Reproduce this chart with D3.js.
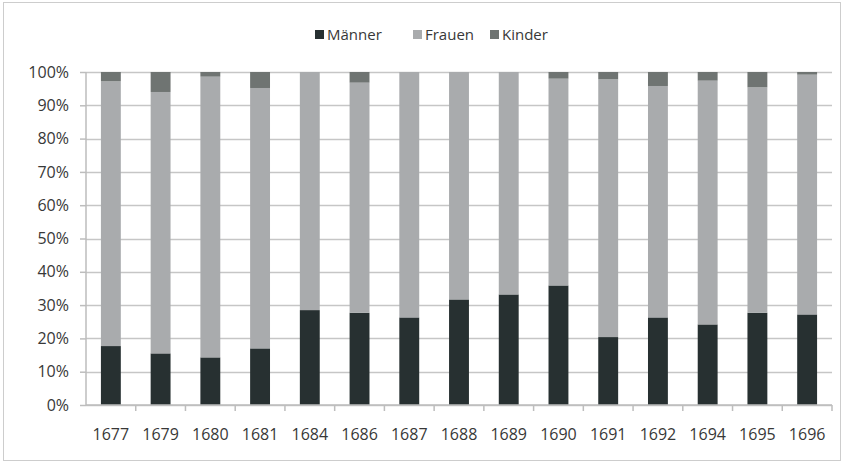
<!DOCTYPE html>
<html>
<head>
<meta charset="utf-8">
<script src="https://cdn.jsdelivr.net/npm/d3@7"></script>
<style>
  body { margin: 0; background: #fff; }
  text { font-family: "Open Sans", sans-serif; fill: #383838; }
</style>
</head>
<body>
<div id="main_content"></div>
<script>
var width = 844, height = 462;

var years = ['1677', '1679', '1680', '1681', '1684', '1686', '1687', '1688', '1689', '1690', '1691', '1692', '1694', '1695', '1696'];
var maenner = [17.7, 15.5, 14.3, 17.0, 28.5, 27.7, 26.3, 31.7, 33.2, 35.9, 20.4, 26.3, 24.2, 27.7, 27.2];
var kinder = [2.8, 6.0, 1.4, 4.8, 0, 3.2, 0, 0, 0, 2.0, 2.2, 4.2, 2.6, 4.6, 0.8];
var frauen = maenner.map(function(m, i) { return 100 - m - kinder[i]; });
var seriesNames = ['Männer', 'Frauen', 'Kinder'];
var colors = ['#273031', '#a9abad', '#6f7472'];
var yTicks = [0, 10, 20, 30, 40, 50, 60, 70, 80, 90, 100];

var rows = years.map(function(y, i) {
  return { year: y, 'Männer': maenner[i], 'Frauen': frauen[i], 'Kinder': kinder[i] };
});
var stacked = d3.stack().keys(seriesNames)(rows);

var margin = { left: 86, right: 12, top: 72, bottom: 57 };

var svg = d3.select('#main_content').append('svg')
  .attr('width', width)
  .attr('height', height)
  .style('display', 'block');

// outer frame
svg.append('rect')
  .attr('x', 3.5).attr('y', 2.5)
  .attr('width', width - 7).attr('height', height - 4)
  .attr('fill', 'none')
  .attr('stroke', '#9a9a9a')
  .attr('stroke-dasharray', '1,1');

var x = d3.scaleBand()
  .domain(years)
  .range([margin.left, width - margin.right])
  .paddingInner(0.6)
  .paddingOuter(0.3);

var y = d3.scaleLinear()
  .domain([0, 100])
  .range([height - margin.bottom, margin.top]);

// gridlines
svg.append('g').selectAll('line')
  .data(yTicks)
  .enter().append('line')
  .attr('x1', margin.left).attr('x2', width - margin.right)
  .attr('y1', function(d) { return Math.round(y(d)) + 0.5; })
  .attr('y2', function(d) { return Math.round(y(d)) + 0.5; })
  .attr('stroke', '#c6c6c6')
  .attr('stroke-width', 1.5);

// bars
svg.append('g').selectAll('g')
  .data(stacked)
  .enter().append('g')
  .attr('fill', function(d, i) { return colors[i]; })
  .selectAll('rect')
  .data(function(d) { return d; })
  .enter().append('rect')
  .attr('x', function(d) { return x(d.data.year); })
  .attr('width', x.bandwidth())
  .attr('y', function(d) { return y(d[1]); })
  .attr('height', function(d) { return y(d[0]) - y(d[1]); });

// y axis
var yAxis = svg.append('g')
  .attr('transform', 'translate(' + margin.left + ',0)')
  .call(d3.axisLeft(y).tickValues(yTicks).tickSize(6).tickPadding(11)
    .tickFormat(function(d) { return d + '%'; }));
yAxis.selectAll('line, path').attr('stroke', '#bdbdbd').attr('stroke-width', 1.5);
yAxis.select('.domain').attr('d', 'M0,' + y(100) + 'V' + y(0));
yAxis.selectAll('text').style('font-size', '16px').attr('fill', '#383838');

// x axis
var step = x.step();
var xAxis = svg.append('g')
  .attr('transform', 'translate(0,' + y(0) + ')');
xAxis.append('line')
  .attr('x1', margin.left).attr('x2', width - margin.right)
  .attr('stroke', '#bdbdbd').attr('stroke-width', 1.5);
xAxis.selectAll('.tick')
  .data(years)
  .enter().append('line')
  .attr('x1', function(d) { return x(d) + x.bandwidth() / 2 + step / 2; })
  .attr('x2', function(d) { return x(d) + x.bandwidth() / 2 + step / 2; })
  .attr('y1', 0).attr('y2', 6)
  .attr('stroke', '#bdbdbd').attr('stroke-width', 1.5);
xAxis.selectAll('text')
  .data(years)
  .enter().append('text')
  .attr('x', function(d) { return x(d) + x.bandwidth() / 2; })
  .attr('y', 35)
  .attr('text-anchor', 'middle')
  .style('font-size', '16px')
  .text(function(d) { return d; });

// legend
var legendX = [315, 413, 490];
var legend = svg.append('g').selectAll('g')
  .data(seriesNames)
  .enter().append('g')
  .attr('transform', function(d, i) { return 'translate(' + legendX[i] + ',34)'; });
legend.append('rect')
  .attr('x', 0).attr('y', -4)
  .attr('width', 9).attr('height', 9)
  .attr('fill', function(d, i) { return colors[i]; });
legend.append('text')
  .attr('x', 12).attr('y', 5.5)
  .style('font-size', '15px')
  .text(function(d) { return d; });
</script>
</body>
</html>
